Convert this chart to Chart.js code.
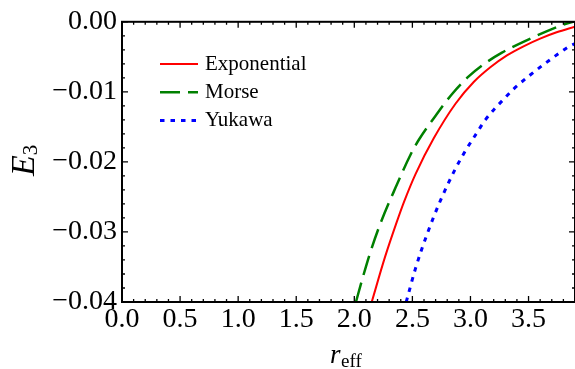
<!DOCTYPE html>
<html>
<head>
<meta charset="utf-8">
<script src="https://cdn.jsdelivr.net/npm/chart.js@4.4.0/dist/chart.umd.min.js"></script>
<style>
  html, body { margin: 0; padding: 0; background: #fff; }
</style>
</head>
<body>
<canvas id="chart" width="575" height="369"></canvas>
<script>
// values
const expR   = [2.15, 2.264, 2.365, 2.428, 2.528, 2.685, 2.871, 3.028, 3.171, 3.314, 3.457, 3.60, 3.742, 3.9];
const expE   = [-0.0400, -0.0336, -0.0286, -0.0257, -0.0217, -0.0166, -0.0117, -0.0086, -0.0065, -0.0048, -0.0035, -0.0024, -0.0015, -0.0007];

const morseR = [2.014, 2.066, 2.134, 2.22, 2.357, 2.486, 2.557, 2.70, 2.842, 2.985, 3.128, 3.271, 3.528, 3.80, 3.9];
const morseE = [-0.0400, -0.0369, -0.0331, -0.0290, -0.0236, -0.0189, -0.0168, -0.0134, -0.0103, -0.0078, -0.0059, -0.0044, -0.0023, -0.0004, 0.0001];

const yukR   = [2.447, 2.527, 2.627, 2.742, 2.87, 2.957, 3.057, 3.128, 3.30, 3.371, 3.514, 3.671, 3.843, 3.9];
const yukE   = [-0.0400, -0.0352, -0.0303, -0.0255, -0.0210, -0.0184, -0.0158, -0.0140, -0.0108, -0.0096, -0.0076, -0.0056, -0.0036, -0.0031];

const seriesNames = ['Exponential', 'Morse', 'Yukawa'];
const xTickValues = [0, 0.5, 1, 1.5, 2, 2.5, 3, 3.5];
const yTickValues = [0, -0.01, -0.02, -0.03, -0.04];

const toPoints = (xs, ys) => xs.map((x, i) => ({ x: x, y: ys[i] }));
const serif = 'Liberation Serif, Times New Roman, serif';

// frame with inward ticks on all four sides, legend and axis titles
const framePlugin = {
  id: 'frame',
  afterDatasetsDraw(chart) {
    const { ctx, chartArea: a, scales } = chart;
    const xs = scales.x, ys = scales.y;
    ctx.save();
    ctx.strokeStyle = '#000';
    ctx.lineWidth = 1.3;
    ctx.beginPath();
    for (let i = 0; i <= 39; i++) {
      const px = xs.getPixelForValue(i / 10);
      const len = i % 5 === 0 ? 6 : 3;
      ctx.moveTo(px, a.bottom); ctx.lineTo(px, a.bottom - len);
      ctx.moveTo(px, a.top); ctx.lineTo(px, a.top + len);
    }
    for (let j = 0; j <= 20; j++) {
      const py = ys.getPixelForValue(-j * 0.002);
      const len = j % 5 === 0 ? 6 : 3;
      ctx.moveTo(a.left, py); ctx.lineTo(a.left + len, py);
      ctx.moveTo(a.right, py); ctx.lineTo(a.right - len, py);
    }
    ctx.stroke();
    ctx.lineWidth = 2;
    ctx.strokeRect(a.left, a.top, a.right - a.left, a.bottom - a.top);
    ctx.restore();
  },
  afterDraw(chart) {
    const { ctx } = chart;
    ctx.save();
    ctx.fillStyle = '#000';
    // legend inside the plot
    chart.data.datasets.forEach((ds, i) => {
      const y = 64 + i * 28.3;
      ctx.save();
      ctx.strokeStyle = ds.borderColor;
      ctx.lineWidth = ds.borderWidth;
      ctx.setLineDash(ds.borderDash || []);
      ctx.beginPath();
      ctx.moveTo(160, y); ctx.lineTo(198, y);
      ctx.stroke();
      ctx.restore();
      ctx.font = '21px ' + serif;
      ctx.textBaseline = 'alphabetic';
      ctx.textAlign = 'left';
      ctx.fillText(ds.label, 205, y + 5.5);
    });
    // x axis title r_eff
    ctx.textAlign = 'left';
    ctx.font = 'italic 27px ' + serif;
    ctx.fillText('r', 330, 363);
    ctx.font = '19px ' + serif;
    ctx.fillText('eff', 341, 367);
    // y axis title E_3
    ctx.translate(33.5, 176);
    ctx.rotate(-Math.PI / 2);
    ctx.font = 'italic 34px ' + serif;
    ctx.fillText('E', 0, 0);
    const w = ctx.measureText('E').width;
    ctx.font = '21px ' + serif;
    ctx.fillText('3', w, 3);
    ctx.restore();
  }
};

const chart = new Chart(document.getElementById('chart').getContext('2d'), {
  type: 'scatter',
  data: {
    datasets: [
      {
        label: seriesNames[0],
        data: toPoints(expR, expE),
        borderColor: '#ff0000',
        borderWidth: 2,
        showLine: true,
        pointRadius: 0,
        cubicInterpolationMode: 'monotone'
      },
      {
        label: seriesNames[1],
        data: toPoints(morseR, morseE),
        borderColor: '#008000',
        borderWidth: 2.5,
        borderDash: [20, 8],
        showLine: true,
        pointRadius: 0,
        cubicInterpolationMode: 'monotone'
      },
      {
        label: seriesNames[2],
        data: toPoints(yukR, yukE),
        borderColor: '#0000ff',
        borderWidth: 3,
        borderDash: [4.5, 6],
        showLine: true,
        pointRadius: 0,
        cubicInterpolationMode: 'monotone'
      }
    ]
  },
  options: {
    responsive: false,
    animation: false,
    devicePixelRatio: 1,
    layout: { padding: { top: 21, right: -2, left: 0, bottom: 0 } },
    plugins: { legend: { display: false }, tooltip: { enabled: false } },
    scales: {
      x: {
        type: 'linear',
        min: 0,
        max: 3.9,
        grid: { display: false, drawTicks: false },
        border: { display: false },
        afterBuildTicks: s => { s.ticks = xTickValues.map(v => ({ value: v })); },
        afterFit: s => { s.height = 67; },
        ticks: {
          font: { family: serif, size: 28 },
          color: '#000',
          padding: 1,
          maxRotation: 0,
          autoSkip: false,
          callback: v => v.toFixed(1)
        }
      },
      y: {
        type: 'linear',
        min: -0.04,
        max: 0,
        grid: { display: false, drawTicks: false },
        border: { display: false },
        afterBuildTicks: s => { s.ticks = yTickValues.map(v => ({ value: v })); },
        afterFit: s => { s.width = 122; },
        ticks: {
          font: { family: serif, size: 28 },
          color: '#000',
          padding: 5,
          callback: v => v === 0 ? '0.00' : '\u2212' + Math.abs(v).toFixed(2)
        }
      }
    }
  },
  plugins: [framePlugin]
});
</script>
</body>
</html>
